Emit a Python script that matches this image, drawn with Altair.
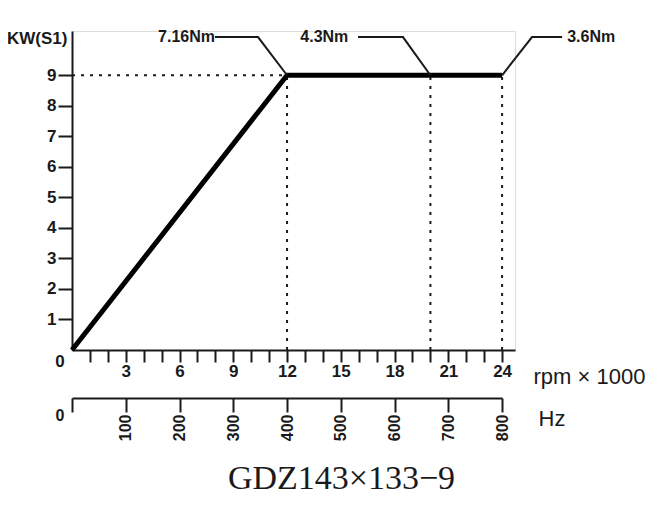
import altair as alt
import pandas as pd

# ---- data ----
rpm_k = [0, 12, 24]            # speed, rpm x 1000
power_kw = [0, 9, 9]           # KW(S1)
marker_rpm = [12, 20, 24]      # dotted markers
rated_kw = 9
torque_labels = ["7.16Nm", "4.3Nm", "3.6Nm"]
elbow_rpm = [10.38, 18.47, 25.67]
end_rpm = [7.98, 15.96, 27.35]
label_rpm = [7.98, 15.42, 27.63]
leader_kw = 10.25
rpm_ticks = list(range(1, 25))
kw_ticks = list(range(1, 10))
hz_ticks = [0, 100, 200, 300, 400, 500, 600, 700, 800]

FONT = "Liberation Sans"
INK = "#1a1a1a"

power_df = pd.DataFrame({"rpm": rpm_k, "kw": power_kw})
hline_df = pd.DataFrame({"rpm": [0], "rpm2": [marker_rpm[0]], "kw": [rated_kw]})
vline_df = pd.DataFrame({"rpm": marker_rpm, "kw": [0] * 3, "kw2": [rated_kw] * 3})

rows = []
for i, lab in enumerate(torque_labels):
    rows.append({"label": lab, "order": 0, "rpm": marker_rpm[i], "kw": rated_kw})
    rows.append({"label": lab, "order": 1, "rpm": elbow_rpm[i], "kw": leader_kw})
    rows.append({"label": lab, "order": 2, "rpm": end_rpm[i], "kw": leader_kw})
leader_df = pd.DataFrame(rows)
text_df = pd.DataFrame({"label": torque_labels, "rpm": label_rpm, "kw": [leader_kw] * 3})
zero_df = pd.DataFrame({"rpm": [0], "kw": [0], "t": ["0"]})
hz_df = pd.DataFrame({"hz": [0], "kw": [0], "t": ["0"]})

x_scale = alt.Scale(domain=[0, 24.72], nice=False, zero=True)
y_scale = alt.Scale(domain=[0, 10.45], nice=False, zero=True)
hz_scale = alt.Scale(domain=[0, 800], range=[0, 430], nice=False)

x_axis = alt.Axis(
    values=rpm_ticks, labelExpr="datum.value % 3 == 0 ? datum.label : ''",
    tickSize=12, tickWidth=2, tickColor=INK, domainWidth=2, domainColor=INK,
    labelFont=FONT, labelFontSize=17, labelFontWeight="bold", labelColor=INK,
    labelPadding=1, labelFlush=False, labelOverlap=False, grid=False,
    title="rpm × 1000", titleFont=FONT, titleFontSize=22, titleFontWeight="normal",
    titleColor=INK, titleX=461, titleY=26, titleAlign="left", titleBaseline="middle",
    titleAngle=0,
)
y_axis = alt.Axis(
    values=kw_ticks, tickSize=14, tickWidth=2, tickColor=INK, domainWidth=2,
    domainColor=INK, labelFont=FONT, labelFontSize=17, labelFontWeight="bold",
    labelColor=INK, labelPadding=2, grid=False, labelFlush=False,
    title="KW(S1)", titleFont=FONT, titleFontSize=17, titleFontWeight="bold",
    titleColor=INK, titleAngle=0, titleAlign="right", titleBaseline="middle",
    titleX=-5, titleY=7,
)
hz_axis = alt.Axis(
    orient="bottom", offset=48, values=hz_ticks,
    labelExpr="datum.value == 0 ? '' : datum.label", labelAngle=270,
    tickSize=14, tickWidth=2, tickColor=INK, domainWidth=2, domainColor=INK,
    labelFont=FONT, labelFontSize=16, labelFontWeight="bold", labelColor=INK,
    labelPadding=2, labelFlush=False, labelOverlap=False, grid=False,
    title="Hz", titleFont=FONT, titleFontSize=22, titleFontWeight="normal",
    titleColor=INK, titleX=466, titleY=20, titleAlign="left", titleBaseline="middle",
    titleAngle=0,
)

X = lambda f="rpm": alt.X(f"{f}:Q", scale=x_scale, axis=x_axis)
Y = lambda f="kw": alt.Y(f"{f}:Q", scale=y_scale, axis=y_axis)

hline = alt.Chart(hline_df).mark_rule(color=INK, strokeWidth=2, strokeDash=[3, 6]).encode(
    x=X(), x2="rpm2:Q", y=Y())
vlines = alt.Chart(vline_df).mark_rule(color=INK, strokeWidth=2, strokeDash=[3, 6]).encode(
    x=X(), y=Y(), y2="kw2:Q")
power = alt.Chart(power_df).mark_line(color="black", strokeWidth=5, strokeJoin="miter").encode(
    x=X(), y=Y())
leaders = alt.Chart(leader_df).mark_line(color=INK, strokeWidth=2).encode(
    x=X(), y=Y(), detail="label:N", order="order:Q")
left_text = alt.Chart(text_df).transform_filter(
    alt.datum.label != torque_labels[2]).mark_text(
    align="right", baseline="middle", font=FONT, fontSize=16, fontWeight="bold", color=INK
).encode(x=X(), y=Y(), text="label:N")
right_text = alt.Chart(text_df).transform_filter(
    alt.datum.label == torque_labels[2]).mark_text(
    align="left", baseline="middle", font=FONT, fontSize=16, fontWeight="bold", color=INK
).encode(x=X(), y=Y(), text="label:N")
zero_y = alt.Chart(zero_df).mark_text(
    align="center", baseline="middle", font=FONT, fontSize=17, fontWeight="bold",
    color=INK, dx=-12, dy=12).encode(x=X(), y=Y(), text="t:N")

rpm_layer = alt.layer(hline, vlines, power, leaders, left_text, right_text, zero_y)

hz_layer = alt.Chart(hz_df).mark_text(
    align="center", baseline="middle", font=FONT, fontSize=16, fontWeight="bold",
    color=INK, dx=-12, dy=66).encode(
    x=alt.X("hz:Q", scale=hz_scale, axis=hz_axis), y=Y(), text="t:N")

chart = alt.layer(rpm_layer, hz_layer).resolve_scale(x="independent").properties(
    width=443, height=319,
    autosize=alt.AutoSizeParams(type="none"),
    padding={"left": 64, "top": 23, "right": 142, "bottom": 147},
    title=alt.TitleParams(
        "GDZ143×133−9", orient="bottom", anchor="middle", frame="group",
        font="Liberation Serif", fontSize=34, fontWeight="normal", color=INK,
        baseline="alphabetic", offset=48, dx=48),
).configure_view(stroke=None).configure(background="white")

chart.save("out.html", embed_options={"renderer": "svg", "actions": False})
